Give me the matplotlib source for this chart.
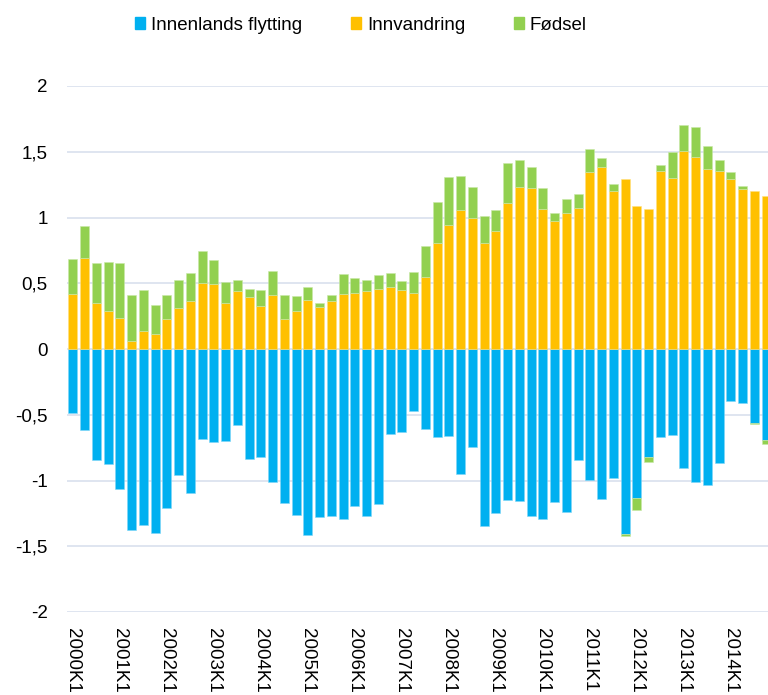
import numpy as np
import matplotlib
matplotlib.use("Agg")
import matplotlib.pyplot as plt
from matplotlib.patches import Patch

plt.rcParams['font.family'] = ['Liberation Sans', 'DejaVu Sans']

# kvartaler 2000K1 - 2014K4
years = list(range(2000, 2015))
quarters = [f"{y}K{q}" for y in years for q in range(1, 5)]

innvandring = [0.415, 0.694, 0.349, 0.289, 0.235, 0.058, 0.137, 0.114,
               0.228, 0.314, 0.367, 0.499, 0.491, 0.349, 0.443, 0.395,
               0.329, 0.413, 0.230, 0.291, 0.372, 0.319, 0.367, 0.418,
               0.425, 0.441, 0.458, 0.473, 0.451, 0.425, 0.549, 0.805,
               0.942, 1.058, 0.995, 0.808, 0.896, 1.111, 1.235, 1.223,
               1.068, 0.970, 1.038, 1.076, 1.344, 1.382, 1.203, 1.289,
               1.091, 1.066, 1.352, 1.304, 1.506, 1.458, 1.367, 1.352,
               1.294, 1.215, 1.203, 1.165]

innenlands = [-0.487, -0.616, -0.844, -0.877, -1.067, -1.374, -1.336, -1.402,
              -1.207, -0.961, -1.093, -0.687, -0.710, -0.700, -0.575, -0.837,
              -0.821, -1.009, -1.171, -1.260, -1.412, -1.278, -1.267, -1.295,
              -1.191, -1.267, -1.176, -0.644, -0.629, -0.471, -0.611, -0.667,
              -0.662, -0.948, -0.745, -1.349, -1.247, -1.151, -1.154, -1.270,
              -1.295, -1.166, -1.237, -0.842, -0.999, -1.141, -0.981, -1.409,
              -1.136, -0.821, -0.667, -0.651, -0.902, -1.011, -1.032, -0.864,
              -0.395, -0.411, -0.565, -0.692]

fodsel = [0.269, 0.240, 0.307, 0.374, 0.418, 0.352, 0.314, 0.223,
          0.185, 0.208, 0.213, 0.250, 0.187, 0.162, 0.084, 0.058,
          0.122, 0.182, 0.183, 0.114, 0.099, 0.033, 0.046, 0.152,
          0.117, 0.086, 0.107, 0.104, 0.063, 0.160, 0.238, 0.311,
          0.367, 0.256, 0.235, 0.205, 0.160, 0.302, 0.203, 0.159,
          0.155, 0.063, 0.104, 0.101, 0.178, 0.071, 0.053, -0.013,
          -0.089, -0.038, 0.048, 0.192, 0.198, 0.231, 0.177, 0.086,
          0.055, 0.028, -0.005, -0.030]

blue = '#00B0F0'
orange = '#FFC000'
green = '#92D050'

x = np.arange(len(quarters))
inn = np.array(innvandring)
fly = np.array(innenlands)
fod = np.array(fodsel)
# negative fødsel stables under innenlands flytting
fod_bottom = np.where(fod >= 0, np.maximum(inn, 0), np.minimum(fly, 0))

fig = plt.figure(figsize=(7.68, 6.95), dpi=100)
ax = fig.add_axes([67 / 768, 1 - 612 / 695, 705 / 768, (612 - 86) / 695])

w = 0.75
ax.bar(x, fly, width=w, color=blue, edgecolor='#7FD6F7', linewidth=0.4, zorder=3)
ax.bar(x, inn, width=w, color=orange, edgecolor='#FFE080', linewidth=0.4, zorder=3)
ax.bar(x, fod, width=w, bottom=fod_bottom, color=green, edgecolor='#C8E8A8',
       linewidth=0.4, zorder=3)

ax.set_xlim(-0.5, len(quarters) - 0.5)
ax.set_ylim(-2, 2)
yt = [-2, -1.5, -1, -0.5, 0, 0.5, 1, 1.5, 2]
ax.set_yticks(yt)
ax.set_yticklabels([f"{v:g}".replace('.', ',') for v in yt], fontsize=13.5)
ax.yaxis.grid(True, color='#DCE3EF', linewidth=1.3, zorder=0)
ax.set_axisbelow(True)
ax.tick_params(axis='y', length=0, pad=14)
ax.tick_params(axis='x', length=0, pad=11.5)

ax.set_xticks(x[::4])
ax.set_xticklabels(quarters[::4], rotation=-90, fontsize=13.5, va='top', ha='center')

for s in ax.spines.values():
    s.set_visible(False)

handles = [Patch(color=blue, label='Innenlands flytting'),
           Patch(color=orange, label='Innvandring'),
           Patch(color=green, label='Fødsel')]
fig.legend(handles=handles, loc='center', bbox_to_anchor=(361 / 768, 1 - 25 / 695),
           ncol=3, frameon=False, fontsize=13.5, handlelength=0.55, handleheight=0.55,
           handletextpad=0.3, columnspacing=2.6)

fig.savefig('out.png', dpi=100)
